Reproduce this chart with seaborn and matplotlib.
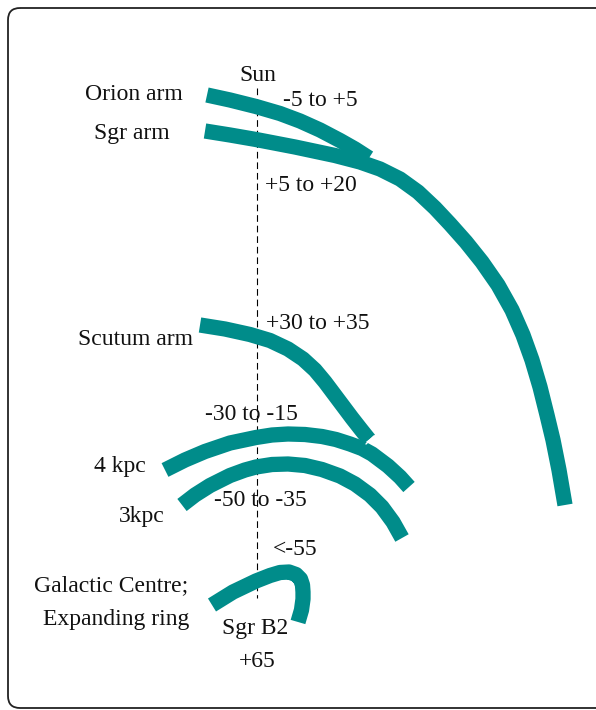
import matplotlib
matplotlib.use("Agg")
import matplotlib.pyplot as plt
import seaborn as sns
import pandas as pd
from matplotlib.patches import FancyBboxPatch

# arm centre lines (pixel coords, y down)
orion_x = [207, 230, 256, 280, 300, 320, 340, 355, 369]
orion_y = [95, 100, 106.5, 113.5, 121, 130, 140.5, 149, 158]

sgr_x = [205, 230, 256, 295, 335, 360, 380, 400, 418, 435, 450, 466, 482, 498, 512, 523, 532, 540, 547, 553, 559, 565]
sgr_y = [131, 135, 139.5, 147, 155.5, 162, 169, 179, 192, 208, 224, 242, 262, 285, 310, 335, 360, 387, 415, 440, 470, 505]

scutum_x = [200, 225, 250, 270, 288, 303, 315, 325, 334, 343, 352, 361, 369]
scutum_y = [325, 329, 334.5, 340.5, 349, 359, 370, 382, 394, 406, 418, 429.5, 439.5]

kpc4_x = [165, 185, 205, 230, 256, 272, 288, 305, 322, 336, 350, 362, 372, 388, 400, 409]
kpc4_y = [470, 460, 451.5, 443, 437.5, 435, 434, 434.5, 436.5, 439.5, 444, 448.5, 454, 466, 477, 487]

kpc3_x = [182, 195, 210, 230, 245, 256, 272, 288, 305, 322, 340, 355, 370, 382, 393, 402]
kpc3_y = [505, 495, 485.5, 475.5, 470, 467, 464.5, 464, 465.5, 469.5, 476, 484, 495, 507, 522, 538]

ring_x = [212, 233, 256, 270, 280, 289, 296, 300.5, 302.5, 303, 303, 301.5, 298]
ring_y = [605, 592, 581, 575.5, 572.5, 572, 574.5, 579, 585, 592, 599, 610, 622]

# small white cut where Scutum arm meets the 4 kpc arm
notch_x = [366, 374]
notch_y = [444, 436]

sun_x = 257
sun_line_y = [88, 598]

labels = ["Sun", "Orion arm", "Sgr arm", "-5 to +5", "+5 to +20", "+30 to +35",
          "Scutum arm", "-30 to -15", "4 kpc", "-50 to -35", "3kpc", "<-55",
          "Galactic Centre;", "Expanding ring", "Sgr B2", "+65"]
label_x = [258, 134, 132, 320, 311, 318, 135, 251, 120, 260, 142, 295, 111, 116, 255, 257]
label_y = [81, 100, 139, 106, 191, 329, 345, 420, 472, 506, 522, 555, 591, 625, 634, 667]

teal = "#008C8A"

sns.set_theme(style="white")
plt.rcParams["font.family"] = ["Liberation Serif", "DejaVu Serif"]

fig = plt.figure(figsize=(5.96, 7.10), dpi=100)
ax = fig.add_axes([0, 0, 1, 1])

# rounded frame
frame = FancyBboxPatch((8, 8), 620, 700, boxstyle="round,pad=0,rounding_size=12",
                       fill=False, edgecolor="#222222", linewidth=1.3)
ax.add_patch(frame)

# dashed Sun line
ax.vlines(sun_x, sun_line_y[0], sun_line_y[1], colors="black", linewidth=0.8,
          linestyles=(0, (6, 3.5)))

arms = [(sgr_x, sgr_y), (orion_x, orion_y), (kpc4_x, kpc4_y), (scutum_x, scutum_y),
        (kpc3_x, kpc3_y), (ring_x, ring_y)]
for xs, ys in arms:
    df = pd.DataFrame({"x": xs, "y": ys})
    sns.lineplot(data=df, x="x", y="y", sort=False, estimator=None, color=teal,
                 linewidth=11, solid_capstyle="butt", solid_joinstyle="round", ax=ax)

sns.lineplot(x=notch_x, y=notch_y, sort=False, estimator=None, color="white",
             linewidth=1.0, ax=ax)

ax.set_xlim(0, 596)
ax.set_ylim(710, 0)
ax.axis("off")

for txt, tx, ty in zip(labels, label_x, label_y):
    ax.text(tx, ty, txt, ha="center", va="baseline", fontsize=17, color="#111111")

fig.savefig("out.png", dpi=100)
